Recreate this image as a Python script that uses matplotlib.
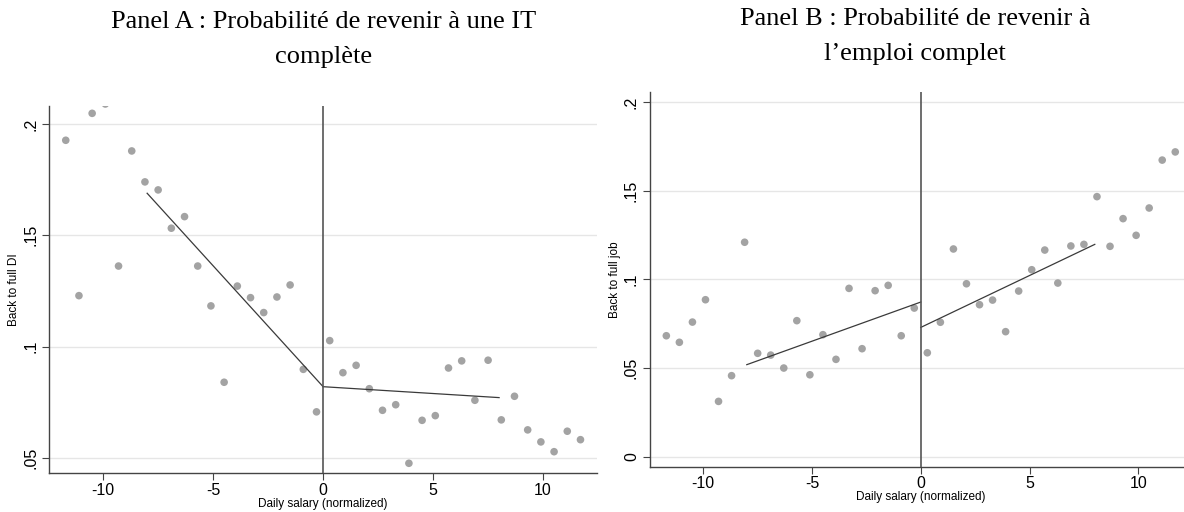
import numpy as np
import matplotlib
matplotlib.use("Agg")
import matplotlib.pyplot as plt

# ----------------------------
# Data (bins of 0.6 around the cutoff)
# ----------------------------
bins = [-11.7, -11.1, -10.5, -9.9, -9.3, -8.7, -8.1, -7.5, -6.9, -6.3,
        -5.7, -5.1, -4.5, -3.9, -3.3, -2.7, -2.1, -1.5, -0.9, -0.3,
        0.3, 0.9, 1.5, 2.1, 2.7, 3.3, 3.9, 4.5, 5.1, 5.7,
        6.3, 6.9, 7.5, 8.1, 8.7, 9.3, 9.9, 10.5, 11.1, 11.7]

back_full_di = [0.1927, 0.1229, 0.2048, 0.2090, 0.1362, 0.1879, 0.1740, 0.1704, 0.1532, 0.1584,
                0.1362, 0.1183, 0.0840, 0.1272, 0.1220, 0.1153, 0.1223, 0.1277, 0.0898, 0.0707,
                0.1027, 0.0883, 0.0916, 0.0811, 0.0714, 0.0739, 0.0476, 0.0669, 0.0690, 0.0904,
                0.0936, 0.0759, 0.0939, 0.0671, 0.0777, 0.0626, 0.0572, 0.0528, 0.0620, 0.0582]

back_full_job = [0.0682, 0.0645, 0.0759, 0.0885, 0.0312, 0.0457, 0.1209, 0.0583, 0.0573, 0.0500,
                 0.0767, 0.0462, 0.0688, 0.0549, 0.0949, 0.0609, 0.0936, 0.0966, 0.0682, 0.0838,
                 0.0586, 0.0758, 0.1171, 0.0975, 0.0857, 0.0883, 0.0705, 0.0934, 0.1054, 0.1165,
                 0.0979, 0.1188, 0.1197, 0.1466, 0.1186, 0.1342, 0.1248, 0.1402, 0.1672, 0.1718]

# linear fits on each side of the cutoff (endpoints)
fit_x_left = [-8, 0]
fit_x_right = [0, 8]
fit_di_left = [0.1689, 0.0820]
fit_di_right = [0.0820, 0.0771]
fit_job_left = [0.0519, 0.0872]
fit_job_right = [0.0729, 0.1197]

yticks_a = [0.05, 0.10, 0.15, 0.20]
ytick_labels_a = [".05", ".1", ".15", ".2"]
yticks_b = [0, 0.05, 0.10, 0.15, 0.20]
ytick_labels_b = ["0", ".05", ".1", ".15", ".2"]
xticks = [-10, -5, 0, 5, 10]

# ----------------------------
# Figure
# ----------------------------
fig = plt.figure(figsize=(11.84, 5.12), dpi=100)
ax_a = fig.add_axes([0.0416, 0.0756, 0.4626, 0.7174])
ax_b = fig.add_axes([0.549, 0.0885, 0.4574, 0.7312])


def style(ax, y, fit_l, fit_r, ylim, yticks, ylabels, ylab):
    ax.set_axisbelow(True)
    for yt in yticks:
        ax.axhline(yt, color="#e6e6e6", lw=1.0, zorder=0)
    ax.scatter(bins, y, s=30, color="#a3a3a3", edgecolors="none", zorder=2, clip_on=True)
    ax.plot(fit_x_left, fit_l, color="#3a3a3a", lw=0.9, zorder=3)
    ax.plot(fit_x_right, fit_r, color="#3a3a3a", lw=0.9, zorder=3)
    ax.axvline(0, color="#555555", lw=1.2, zorder=3)
    ax.set_xlim(-12.45, 12.45)
    ax.set_ylim(*ylim)
    ax.set_xticks(xticks)
    ax.set_xticklabels([str(t) for t in xticks], fontsize=11.5, family="Liberation Sans")
    ax.set_yticks(yticks)
    ax.set_yticklabels(ylabels, fontsize=11.5, family="Liberation Sans", rotation=90, va="center")
    ax.tick_params(length=5, width=0.8, color="#444444", pad=3)
    ax.tick_params(axis="x", pad=2)
    for s in ["top", "right"]:
        ax.spines[s].set_visible(False)
    for s in ["left", "bottom"]:
        ax.spines[s].set_color("#444444")
        ax.spines[s].set_linewidth(1.0)
    ax.set_xlabel("Daily salary (normalized)", fontsize=8.5, family="Liberation Sans", labelpad=0)
    ax.set_ylabel(ylab, fontsize=8.5, family="Liberation Sans", labelpad=2)


style(ax_a, back_full_di, fit_di_left, fit_di_right, (0.0431, 0.2081),
      yticks_a, ytick_labels_a, "Back to full DI")
style(ax_b, back_full_job, fit_job_left, fit_job_right, (-0.0056, 0.2054),
      yticks_b, ytick_labels_b, "Back to full job")

# titles (two lines, serif)
title_kw = dict(ha="center", va="center", fontsize=19, family="Liberation Serif")
fig.text(0.273, 0.958, "Panel A : Probabilité de revenir à une IT", **title_kw)
fig.text(0.273, 0.889, "complète", **title_kw)
fig.text(0.773, 0.962, "Panel B : Probabilité de revenir à", **title_kw)
fig.text(0.773, 0.895, "l\u2019emploi complet", **title_kw)

fig.savefig("out.png", dpi=100)
